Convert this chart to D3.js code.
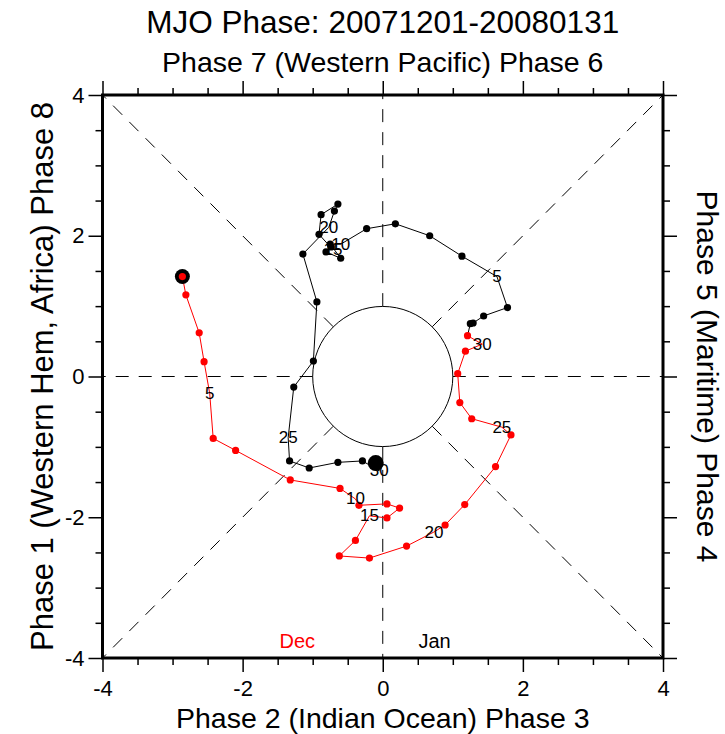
<!DOCTYPE html>
<html lang="en">
<head>
<meta charset="utf-8">
<script src="https://cdn.jsdelivr.net/npm/d3@7"></script>
<style>
  body { margin: 0; background: white; }
  text { font-family: "Liberation Sans", Arial, Helvetica, sans-serif; fill: black; }
  .guide { fill: none; stroke: black; stroke-width: 1px; stroke-dasharray: 13 10; }
  .tick line { stroke: black; stroke-width: 1.5px; }
  .domain { display: none; }
</style>
</head>
<body>
<script>
const title = "MJO Phase: 20071201-20080131";
const topTitle = "Phase 7 (Western Pacific) Phase 6";
const bottomTitle = "Phase 2 (Indian Ocean) Phase 3";
const leftTitle = "Phase 1 (Western Hem, Africa) Phase 8";
const rightTitle = "Phase 5 (Maritime) Phase 4";
const months = ["Dec", "Jan"];
const monthColors = ["#ff0000", "#000000"];
const tickValues = [-4, -2, 0, 2, 4];

// RMM1 / RMM2, one value per day
const decRmm1 = [-2.86, -2.81, -2.62, -2.55, -2.47, -2.42, -2.10, -1.32, -0.61, -0.39,
                 -0.34, 0.06, 0.24, 0.06, -0.19, -0.39, -0.62, -0.19, 0.34, 0.73,
                 0.89, 1.17, 1.61, 1.83, 1.70, 1.27, 1.10, 1.07, 1.18, 1.42, 1.21];
const decRmm2 = [1.42, 1.16, 0.62, 0.21, -0.24, -0.88, -1.05, -1.47, -1.59, -1.74,
                 -1.83, -1.81, -1.87, -2.01, -1.98, -2.33, -2.55, -2.58, -2.41, -2.21,
                 -2.11, -1.82, -1.28, -0.83, -0.72, -0.60, -0.37, 0.04, 0.36, 0.46, 0.58];
const janRmm1 = [1.25, 1.29, 1.44, 1.78, 1.63, 1.13, 0.67, 0.18, -0.23, -0.60,
                 -0.75, -0.60, -0.81, -0.74, -0.71, -0.91, -0.88, -0.64, -0.69, -0.77,
                 -1.14, -0.94, -0.99, -1.27, -1.35, -1.33, -1.05, -0.64, -0.29, -0.05, -0.10];
const janRmm2 = [0.75, 0.76, 0.86, 0.98, 1.42, 1.71, 2.00, 2.17, 2.10, 1.88,
                 1.88, 1.68, 1.77, 1.84, 1.80, 2.02, 2.30, 2.45, 2.35, 2.12,
                 1.74, 1.06, 0.22, -0.15, -0.87, -1.20, -1.30, -1.22, -1.20, -1.34, -1.23];

const W = 725, H = 734;
const svg = d3.select("body").append("svg").attr("width", W).attr("height", H);
svg.append("rect").attr("width", W).attr("height", H).attr("fill", "white");

const x = d3.scaleLinear().domain([-4, 4]).range([102.5, 663]);
const y = d3.scaleLinear().domain([-4, 4]).range([658, 95]);

// dashed phase dividers, from the unit circle out to the frame
const guides = svg.append("g");
for (let k = 0; k < 8; k++) {
    const a = k * Math.PI / 4;
    const r = (k % 2 === 0) ? 4 : 4 * Math.SQRT2;
    guides.append("line").attr("class", "guide")
        .attr("x1", x(Math.cos(a))).attr("y1", y(Math.sin(a)))
        .attr("x2", x(r * Math.cos(a))).attr("y2", y(r * Math.sin(a)));
}
svg.append("circle")
    .attr("cx", x(0)).attr("cy", y(0)).attr("r", x(1) - x(0))
    .attr("fill", "none").attr("stroke", "black").attr("stroke-width", 1);

// axes: minor ticks every 0.5, major every 2
const minor = d3.range(-4, 4.01, 0.5).filter(v => v % 2 !== 0);
function addAxis(axisFn, tx, ty, labels) {
    svg.append("g").attr("transform", `translate(${tx},${ty})`)
        .call(axisFn.tickValues(minor).tickSize(7).tickFormat(""));
    const g = svg.append("g").attr("transform", `translate(${tx},${ty})`)
        .call(axisFn.tickValues(tickValues).tickSize(14)
            .tickFormat(labels ? (d => String(d)) : ""));
    g.selectAll(".tick text").attr("font-size", 22).attr("font-family", null).attr("fill", "black");
    return g;
}
addAxis(d3.axisBottom(x).tickPadding(8), 0, y(-4), true);
addAxis(d3.axisLeft(y).tickPadding(4), x(-4), 0, true);
addAxis(d3.axisTop(x), 0, y(4), false);
addAxis(d3.axisRight(y), x(4), 0, false);

svg.append("rect")
    .attr("x", x(-4)).attr("y", y(4))
    .attr("width", x(4) - x(-4)).attr("height", y(-4) - y(4))
    .attr("fill", "none").attr("stroke", "black").attr("stroke-width", 3);

// trajectories
const dec = decRmm1.map((v, i) => ({day: i + 1, r1: v, r2: decRmm2[i]}));
const jan = janRmm1.map((v, i) => ({day: i + 1, r1: v, r2: janRmm2[i]}));
const line = d3.line().x(d => x(d.r1)).y(d => y(d.r2));

svg.append("path").datum(dec).attr("d", line)
    .attr("fill", "none").attr("stroke", monthColors[0]).attr("stroke-width", 1);
svg.append("path").datum([dec[dec.length - 1]].concat(jan)).attr("d", line)
    .attr("fill", "none").attr("stroke", monthColors[1]).attr("stroke-width", 1);

[dec, jan].forEach((series, m) => {
    svg.append("g").selectAll("circle")
        .data(series.filter(d => d.day % 5 !== 0))
        .join("circle")
        .attr("cx", d => x(d.r1)).attr("cy", d => y(d.r2)).attr("r", 3.6)
        .attr("fill", monthColors[m]);
});

[dec, jan].forEach(series => {
    svg.append("g").selectAll("text")
        .data(series.filter(d => d.day % 5 === 0))
        .join("text")
        .attr("x", d => x(d.r1)).attr("y", d => y(d.r2))
        .attr("text-anchor", "middle").attr("dominant-baseline", "central")
        .attr("font-size", 17)
        .text(d => d.day);
});

// start and end markers
svg.append("circle").attr("cx", x(dec[0].r1)).attr("cy", y(dec[0].r2)).attr("r", 7.5).attr("fill", "black");
svg.append("circle").attr("cx", x(dec[0].r1)).attr("cy", y(dec[0].r2)).attr("r", 3.6).attr("fill", monthColors[0]);
const last = jan[jan.length - 1];
svg.append("circle").attr("cx", x(last.r1)).attr("cy", y(last.r2)).attr("r", 8).attr("fill", "black");

// month key
svg.append("text").attr("x", x(-1.22)).attr("y", y(-3.76))
    .attr("text-anchor", "middle").attr("dominant-baseline", "central")
    .attr("font-size", 20).style("fill", monthColors[0]).text(months[0]);
svg.append("text").attr("x", x(0.74)).attr("y", y(-3.76))
    .attr("text-anchor", "middle").attr("dominant-baseline", "central")
    .attr("font-size", 20).style("fill", monthColors[1]).text(months[1]);

// titles
svg.append("text").attr("x", x(0)).attr("y", 33).attr("text-anchor", "middle")
    .attr("font-size", 31.5).text(title);
svg.append("text").attr("x", x(0)).attr("y", 72).attr("text-anchor", "middle")
    .attr("font-size", 28.5).text(topTitle);
svg.append("text").attr("x", x(0)).attr("y", 728).attr("text-anchor", "middle")
    .attr("font-size", 28.5).text(bottomTitle);
svg.append("text").attr("transform", `translate(53,${y(0)}) rotate(-90)`)
    .attr("text-anchor", "middle").attr("font-size", 31).text(leftTitle);
svg.append("text").attr("transform", `translate(697,${y(0)}) rotate(90)`)
    .attr("text-anchor", "middle").attr("font-size", 30).text(rightTitle);
</script>
</body>
</html>
